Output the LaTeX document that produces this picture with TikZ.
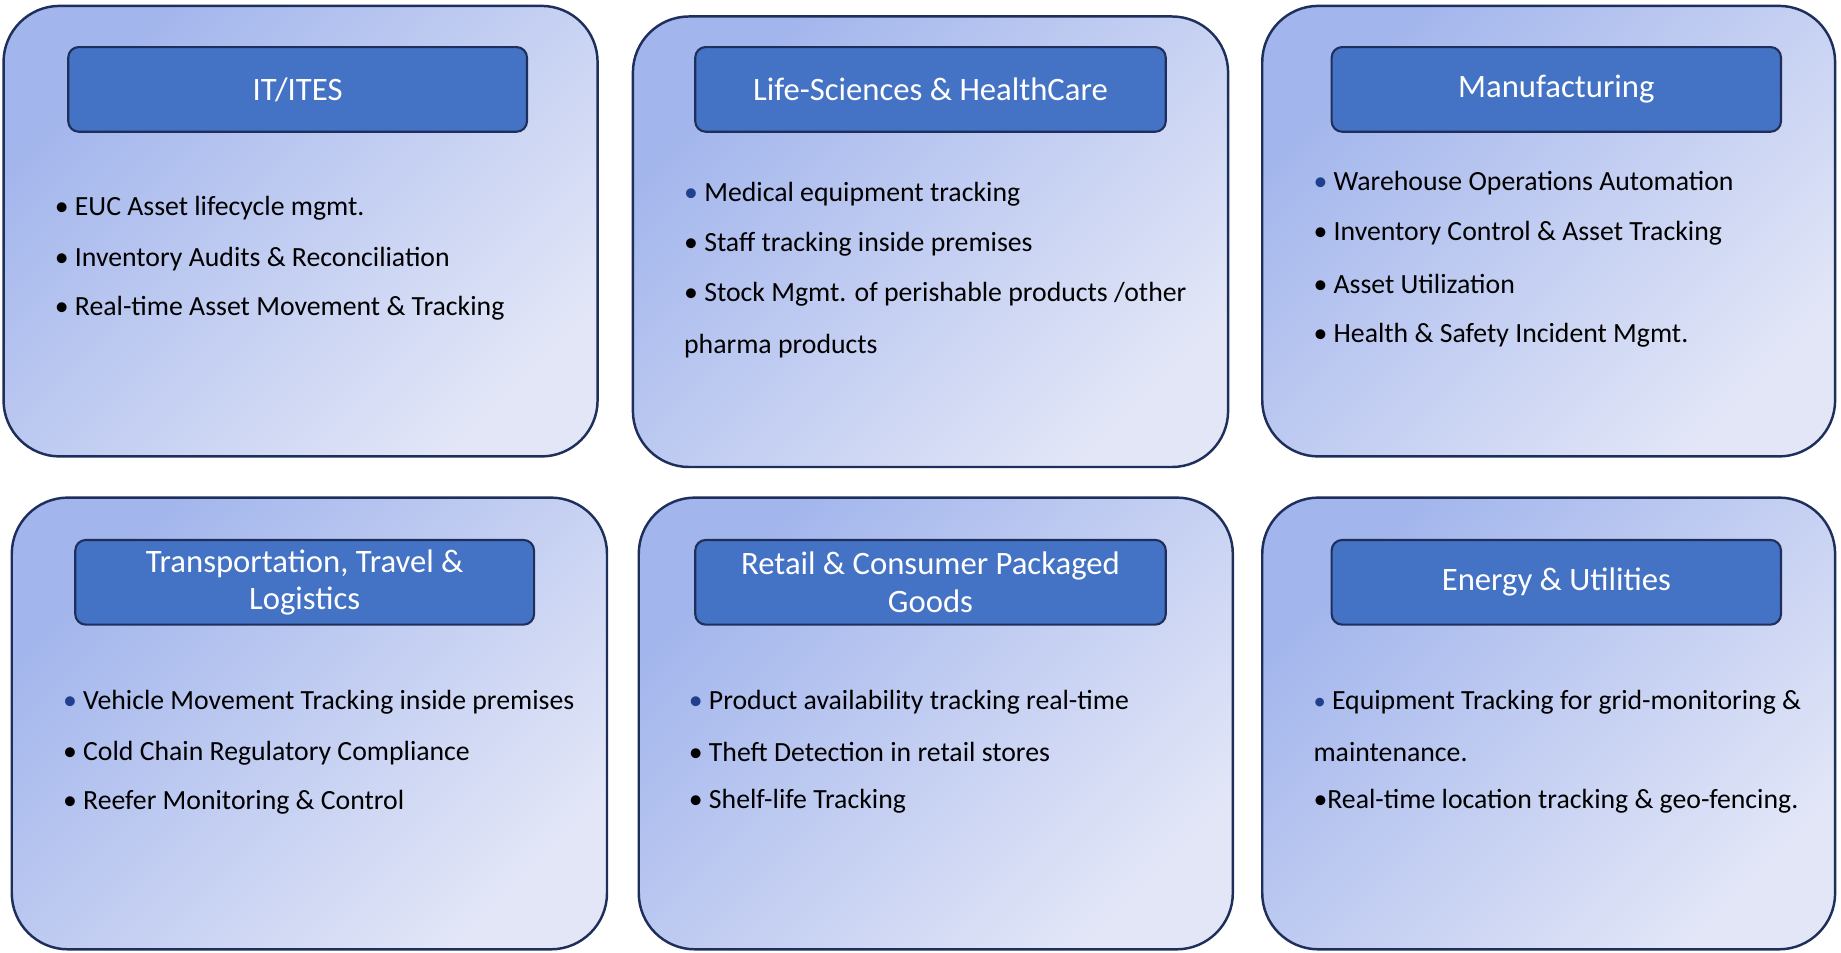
\documentclass[tikz,border=0pt]{standalone}
\usepackage{fontspec}
\setmainfont{Carlito}
\definecolor{hdr}{HTML}{4472C4}
\definecolor{edge}{HTML}{1F2F5C}
\definecolor{gA}{HTML}{A2B5EC}
\definecolor{gB}{HTML}{E2E6F7}
\definecolor{bl}{HTML}{1F3F8F}
\begin{document}
\begin{tikzpicture}[x=0.011764cm,y=-0.011764cm,
  panel/.style={draw=edge,line width=0.7pt,rounded corners=16pt,left color=gA,right color=gB,shading angle=45},
  head/.style={draw=edge,line width=0.6pt,fill=hdr,rounded corners=3pt},
  htext/.style={text=white,font=\fontsize{9.3}{10.6}\selectfont,align=center},
  item/.style={anchor=west,inner sep=0pt,font=\fontsize{7.9}{9}\selectfont}]
\useasboundingbox (0,0) rectangle (1565,810);
\path[panel] (3,5) rectangle (508,388);
\path[panel] (538,14) rectangle (1044,397);
\path[panel] (1073,5) rectangle (1560,388);
\path[panel] (10,423) rectangle (516,807);
\path[panel] (543,423) rectangle (1048,807);
\path[panel] (1073,423) rectangle (1560,807);
\draw[head] (58,40) rectangle (448,112); \node[htext] (h1) at (253,76) {IT/ITES};
\draw[head] (591,40) rectangle (991,112); \node[htext] (h2) at (791,76) {Life-Sciences \& HealthCare};
\draw[head] (1132,40) rectangle (1514,112); \node[htext] (h3) at (1323,76) {Manufacturing};
\draw[head] (64,459) rectangle (454,531); \node[htext] (h4) at (259,495) {Transportation, Travel \&\\Logistics};
\draw[head] (591,459) rectangle (991,531); \node[htext] (h5) at (791,495) {Retail \& Consumer Packaged\\Goods};
\draw[head] (1132,459) rectangle (1514,531); \node[htext] (h6) at (1323,495) {Energy \& Utilities};
\node[item] (a1) at (46,177) {• EUC Asset lifecycle mgmt.};
\node[item] (a2) at (46,220) {• Inventory Audits \& Reconciliation};
\node[item] (a3) at (46,262) {• Real-time Asset Movement \& Tracking};
\node[item] (b1) at (581,165) {{\color{bl}•} Medical equipment tracking};
\node[item] (b2) at (581,208) {• Staff tracking inside premises};
\node[item] (b3) at (581,250) {• Stock Mgmt. of perishable products /other};
\node[item] (b4) at (581,294) {pharma products};
\node[item] (c1) at (1116,156) {{\color{bl}•} Warehouse Operations Automation};
\node[item] (c2) at (1116,198) {• Inventory Control \& Asset Tracking};
\node[item] (c3) at (1116,241) {• Asset Utilization};
\node[item] (c4) at (1116,285) {• Health \& Safety Incident Mgmt.};
\node[item] (d1) at (53,597) {{\color{bl}•} Vehicle Movement Tracking inside premises};
\node[item] (d2) at (53,640) {• Cold Chain Regulatory Compliance};
\node[item] (d3) at (53,682) {• Reefer Monitoring \& Control};
\node[item] (e1) at (585,597) {{\color{bl}•} Product availability tracking real-time};
\node[item] (e2) at (585,639) {• Theft Detection in retail stores};
\node[item] (e3) at (585,681) {• Shelf-life Tracking};
\node[item] (f1) at (1116,597) {{\color{bl}\scriptsize•} Equipment Tracking for grid-monitoring \&};
\node[item] (f2) at (1116,639) {maintenance.};
\node[item] (f3) at (1116,681) {•Real-time location tracking \& geo-fencing.};
\end{tikzpicture}
\end{document}
